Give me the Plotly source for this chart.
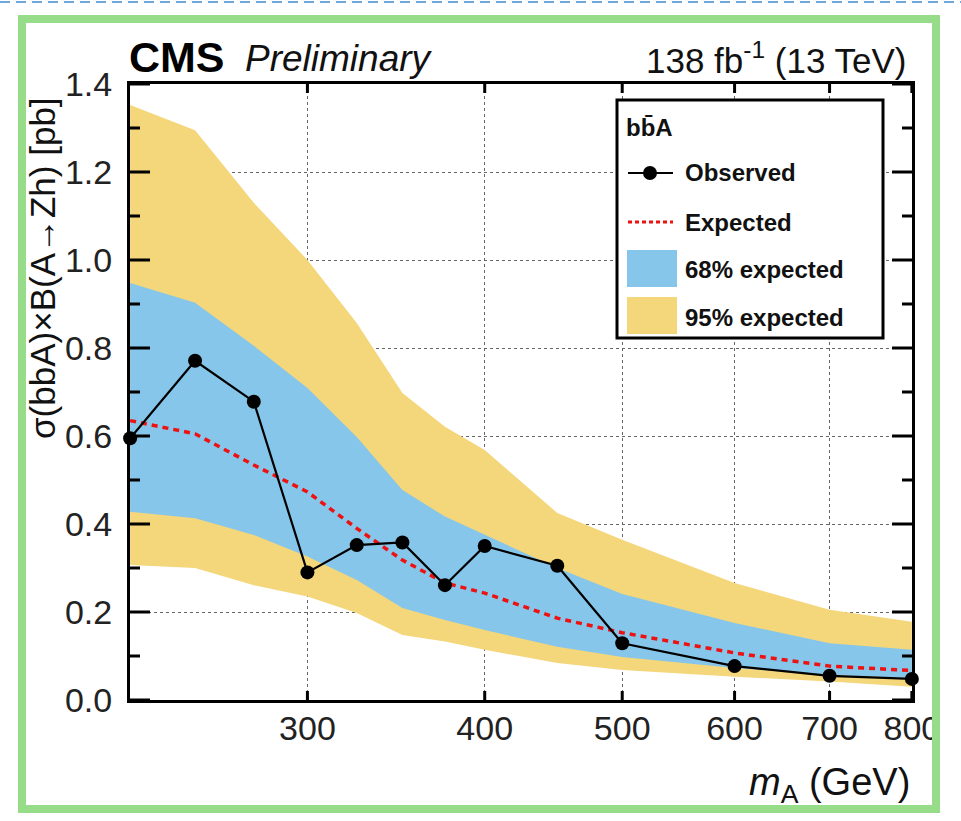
import math
import plotly.graph_objects as go

# ---------------- data ----------------
mass = [225, 250, 275, 300, 325, 350, 375, 400, 450, 500, 600, 700, 800]
observed = [0.595, 0.771, 0.678, 0.290, 0.352, 0.358, 0.261, 0.350, 0.305, 0.129, 0.077, 0.055, 0.048]
expected = [0.635, 0.605, 0.534, 0.473, 0.390, 0.318, 0.266, 0.243, 0.186, 0.153, 0.107, 0.077, 0.067]
band68_hi = [0.948, 0.903, 0.805, 0.709, 0.598, 0.477, 0.417, 0.375, 0.300, 0.241, 0.175, 0.129, 0.114]
band68_lo = [0.428, 0.413, 0.375, 0.326, 0.273, 0.209, 0.182, 0.159, 0.121, 0.098, 0.073, 0.057, 0.050]
band95_hi = [1.352, 1.295, 1.130, 1.000, 0.857, 0.698, 0.621, 0.568, 0.425, 0.364, 0.266, 0.205, 0.178]
band95_lo = [0.307, 0.300, 0.261, 0.235, 0.198, 0.148, 0.133, 0.114, 0.084, 0.068, 0.053, 0.042, 0.030]

x_tickvals = [300, 400, 500, 600, 700, 800]
x_ticktext = ["300", "400", "500", "600", "700", "800"]
y_tickvals = [0.0, 0.2, 0.4, 0.6, 0.8, 1.0, 1.2, 1.4]
y_ticktext = ["0.0", "0.2", "0.4", "0.6", "0.8", "1.0", "1.2", "1.4"]
y_minorvals = [0.1, 0.3, 0.5, 0.7, 0.9, 1.1, 1.3]

# ---------------- style ----------------
W, H = 961, 821
L, R, T, B = 130, 49, 84, 121
PW, PH = W - L - R, H - T - B
YELLOW = "#F4D67B"
BLUE = "#86C6EA"
GREEN = "#97DC88"
FONT = "Liberation Sans"
XRANGE = [math.log10(225) - 1e-4, math.log10(800) + 1e-4]
YRANGE = [0, 1.4]


def px(x):
    return (x - L) / PW


def py(y):
    return (H - B - y) / PH


def xfrac(v):
    # fraction along the (log) x axis
    return (math.log10(v) - XRANGE[0]) / (XRANGE[1] - XRANGE[0])


def yfrac(v):
    return (v - YRANGE[0]) / (YRANGE[1] - YRANGE[0])


fig = go.Figure()

# 95% band
fig.add_trace(go.Scatter(
    x=mass + mass[::-1], y=band95_hi + band95_lo[::-1],
    fill="toself", fillcolor=YELLOW, line=dict(width=0), mode="lines",
    hoverinfo="skip", name="95% expected"))
# 68% band
fig.add_trace(go.Scatter(
    x=mass + mass[::-1], y=band68_hi + band68_lo[::-1],
    fill="toself", fillcolor=BLUE, line=dict(width=0), mode="lines",
    hoverinfo="skip", name="68% expected"))
# expected
fig.add_trace(go.Scatter(
    x=mass, y=expected, mode="lines",
    line=dict(color="#EE1111", width=3.5, dash="6px,5px"), name="Expected"))
# observed
fig.add_trace(go.Scatter(
    x=mass, y=observed, mode="lines+markers", cliponaxis=False,
    line=dict(color="black", width=2.2),
    marker=dict(color="black", size=14), name="Observed"))

fig.update_layout(
    xaxis=dict(type="log", range=XRANGE, tickvals=x_tickvals, ticktext=x_ticktext,
               ticks="", showline=True, linewidth=3, linecolor="black", mirror=True,
               showgrid=True, gridcolor="#666666", griddash="dot", gridwidth=1,
               zeroline=False, layer="above traces", ticklabelstandoff=-4,
               tickfont=dict(family=FONT, size=34, color="#222222")),
    yaxis=dict(range=YRANGE, tickvals=y_tickvals, ticktext=y_ticktext,
               ticks="", showline=True, linewidth=3, linecolor="black", mirror=True,
               showgrid=True, gridcolor="#666666", griddash="dot", gridwidth=1,
               zeroline=False, layer="above traces", ticklabelstandoff=8,
               tickfont=dict(family=FONT, size=34, color="#222222")),
)

shapes = []
# inward tick marks on all four sides (axis decoration, from the tick values)
TW = 3
for vals, length in [(y_tickvals, 20), (y_minorvals, 10)]:
    for v in vals:
        for x0, x1 in [(0, length / PW), (1 - length / PW, 1)]:
            shapes.append(dict(type="line", xref="paper", yref="paper", x0=x0, x1=x1,
                               y0=yfrac(v), y1=yfrac(v),
                               line=dict(color="black", width=TW), layer="above"))
for v in x_tickvals:
    for y0, y1 in [(0, 9 / PH), (1 - 9 / PH, 1)]:
        shapes.append(dict(type="line", xref="paper", yref="paper", x0=xfrac(v),
                           x1=xfrac(v), y0=y0, y1=y1,
                           line=dict(color="black", width=TW), layer="above"))

# outer green frame
shapes.append(dict(type="rect", xref="paper", yref="paper",
                   x0=px(22), x1=px(936), y0=py(19), y1=py(809),
                   line=dict(color=GREEN, width=8), fillcolor="rgba(0,0,0,0)", layer="above"))
# dashed blue line at the very top
shapes.append(dict(type="line", xref="paper", yref="paper",
                   x0=px(0), x1=px(961), y0=py(2), y1=py(2),
                   line=dict(color="#6FA8DC", width=2, dash="10px,6px"), layer="above"))
# legend box
shapes.append(dict(type="rect", xref="paper", yref="paper",
                   x0=px(617), x1=px(883), y0=py(338), y1=py(100),
                   line=dict(color="black", width=3), fillcolor="white", layer="above"))
# legend: observed
shapes.append(dict(type="line", xref="paper", yref="paper",
                   x0=px(628), x1=px(673), y0=py(173), y1=py(173),
                   line=dict(color="black", width=2.2), layer="above"))
shapes.append(dict(type="circle", xref="paper", yref="paper",
                   x0=px(650 - 7), x1=px(650 + 7), y0=py(173 + 7), y1=py(173 - 7),
                   line=dict(color="black", width=0), fillcolor="black", layer="above"))
# legend: expected
shapes.append(dict(type="line", xref="paper", yref="paper",
                   x0=px(628), x1=px(673), y0=py(222), y1=py(222),
                   line=dict(color="#EE1111", width=3, dash="4px,3px"), layer="above"))
# legend: bands
shapes.append(dict(type="rect", xref="paper", yref="paper",
                   x0=px(627), x1=px(677), y0=py(287), y1=py(250),
                   line=dict(width=0), fillcolor=BLUE, layer="above"))
shapes.append(dict(type="rect", xref="paper", yref="paper",
                   x0=px(627), x1=px(677), y0=py(334), y1=py(297),
                   line=dict(width=0), fillcolor=YELLOW, layer="above"))

ann = []
lfont = dict(family=FONT, size=24, color="#111111")
ann.append(dict(x=px(624), y=py(128), text="<b>bb\u0304A</b>", xanchor="left", yanchor="middle",
                font=lfont))
for label, yy in [("Observed", 173), ("Expected", 222), ("68% expected", 269), ("95% expected", 317)]:
    ann.append(dict(x=px(683), y=py(yy), text="<b>" + label + "</b>", xanchor="left",
                    yanchor="middle", font=lfont))

ann.append(dict(x=px(127), y=py(57), text="<b>CMS</b>", xanchor="left", yanchor="middle",
                font=dict(family=FONT, size=43, color="black")))
ann.append(dict(x=px(243), y=py(58), text="<i>Preliminary</i>", xanchor="left", yanchor="middle",
                font=dict(family=FONT, size=37, color="#111111")))
ann.append(dict(x=px(908), y=py(58), text="138 fb<sup>-1</sup> (13 TeV)", xanchor="right",
                yanchor="middle", font=dict(family=FONT, size=35, color="#111111")))
ann.append(dict(x=px(912), y=py(785), text="<i>m</i><sub>A</sub> (GeV)", xanchor="right",
                yanchor="middle", font=dict(family=FONT, size=38, color="#111111")))
ann.append(dict(x=px(42), y=py(268), text="\u03c3(bbA)\u00d7B(A\u2192Zh) [pb]", textangle=-90,
                xanchor="center", yanchor="middle",
                font=dict(family=FONT, size=35, color="#111111")))
for a in ann:
    a.update(xref="paper", yref="paper", showarrow=False)

fig.update_layout(
    width=W, height=H, margin=dict(l=L, r=R, t=T, b=B, autoexpand=False),
    paper_bgcolor="white", plot_bgcolor="white", showlegend=False,
    shapes=shapes, annotations=ann,
)

fig.write_html("out.html", config={"displayModeBar": False},
               post_script="document.body.style.margin='0px';")
